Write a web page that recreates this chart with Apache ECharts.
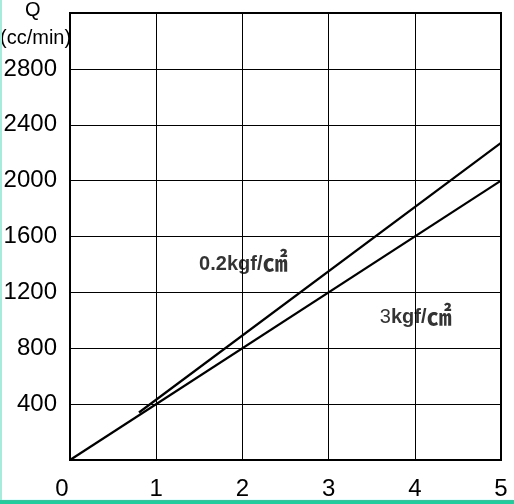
<!DOCTYPE html>
<html>
<head>
<meta charset="utf-8">
<script src="https://cdn.jsdelivr.net/npm/echarts@6/dist/echarts.min.js"></script>
<style>
html,body{margin:0;padding:0;background:#fff;}
#c{width:514px;height:504px;}
#lb{position:absolute;left:0;top:0;width:2px;height:504px;background:#a6ebdc;}
#bb{position:absolute;left:0;top:500px;width:514px;height:4px;background:#22cc9c;}
</style>
</head>
<body>
<div id="c"></div>
<div id="lb"></div>
<div id="bb"></div>
<script>
// Data
var xTicks = [0, 1, 2, 3, 4, 5];
var yTicks = [400, 800, 1200, 1600, 2000, 2400, 2800];
var line3kgf = [[0, 0], [5, 2000]];
var line02kgf = [[0.8, 340], [5, 2270]];
var labelNames = ['0.2kgf/㎠', '3kgf/㎠'];
var labelAt = [[2.01, 1418], [4.01, 1038]];

var chart = echarts.init(document.getElementById('c'), null, {renderer: 'canvas'});
var font = '"Liberation Sans", Arial, sans-serif';
chart.setOption({
  animation: false,
  backgroundColor: '#fff',
  grid: {left: 70, top: 13, right: 13, bottom: 44, show: true, borderColor: '#000', borderWidth: 2, backgroundColor: 'transparent'},
  xAxis: {
    type: 'value', min: 0, max: 5, interval: 1,
    axisLine: {show: true, lineStyle: {color: '#000', width: 2}},
    axisTick: {show: false},
    splitLine: {show: true, lineStyle: {color: '#000', width: 1}},
    axisLabel: {
      color: '#000', fontSize: 24, fontFamily: font, margin: 17,
      formatter: function (v) { return v === 0 ? '{z|0}' : String(v); },
      rich: {z: {fontSize: 24, fontFamily: font, color: '#000', padding: [0, 16, 0, 0]}}
    }
  },
  yAxis: {
    type: 'value', min: 0, max: 3200, interval: 400,
    axisLine: {show: true, lineStyle: {color: '#000', width: 2}},
    axisTick: {show: false},
    splitLine: {show: true, lineStyle: {color: '#000', width: 1}},
    axisLabel: {
      color: '#000', fontSize: 24, fontFamily: font, margin: 13,
      formatter: function (v) { return yTicks.indexOf(v) >= 0 ? String(v) : ''; }
    }
  },
  graphic: [
    {type: 'text', left: 25, top: 0, style: {text: 'Q', font: '20px ' + font, fill: '#000'}},
    {type: 'text', left: 0, top: 28, style: {text: '(cc/min)', font: '20px ' + font, fill: '#000'}}
  ],
  series: [
    {type: 'line', data: line3kgf, symbol: 'none', lineStyle: {color: '#000', width: 2.2}, silent: true},
    {type: 'line', data: line02kgf, symbol: 'none', lineStyle: {color: '#000', width: 2.2}, silent: true},
    {
      type: 'scatter', symbolSize: 0, silent: true,
      data: labelNames.map(function (n, i) { return {value: labelAt[i], name: n}; }),
      label: {
        show: true, position: 'inside',
        formatter: function (p) {
          return p.dataIndex === 0 ? '{b|0.2kgf/}{u|㎠}' : '{n|3}{b|kgf/}{u|㎠}';
        },
        rich: {
          b: {fontSize: 20, fontWeight: 'bold', fontFamily: font, color: '#000', verticalAlign: 'bottom'},
          n: {fontSize: 20, fontFamily: font, color: '#000', verticalAlign: 'bottom'},
          u: {fontSize: 25, fontWeight: 'bold', fontFamily: '"Noto Sans CJK JP", sans-serif', color: '#000', verticalAlign: 'bottom'}
        }
      }
    }
  ]
});
</script>
</body>
</html>
